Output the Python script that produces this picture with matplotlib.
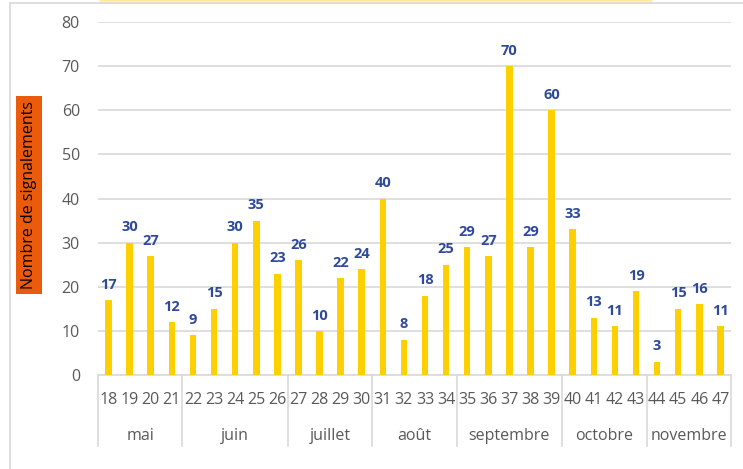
import numpy as np
import matplotlib.pyplot as plt
from matplotlib.patches import Rectangle
from matplotlib.lines import Line2D

plt.rcParams['font.family'] = ['Open Sans', 'DejaVu Sans']

# semaines et nombre de signalements
weeks = [18, 19, 20, 21, 22, 23, 24, 25, 26, 27, 28, 29, 30, 31, 32, 33, 34,
         35, 36, 37, 38, 39, 40, 41, 42, 43, 44, 45, 46, 47]
counts = [17, 30, 27, 12, 9, 15, 30, 35, 23, 26, 10, 22, 24, 40, 8, 18, 25,
          29, 27, 70, 29, 60, 33, 13, 11, 19, 3, 15, 16, 11]
months = ['mai', 'juin', 'juillet', 'août', 'septembre', 'octobre', 'novembre']
weeks_per_month = [4, 5, 4, 4, 5, 4, 4]

bar_color = '#FFD000'
label_color = '#2F4A9A'
grey_txt = '#595959'
grid_col = '#D9D9D9'

fig = plt.figure(figsize=(7.43, 4.69), dpi=100)
ax = fig.add_axes([0.1319, 0.2004, 0.8519, 0.7527])

x = np.arange(len(weeks))
bars = ax.bar(x, counts, width=0.31, color=bar_color, zorder=3)
for xi, v in zip(x, counts):
    ax.annotate(str(v), (xi, v), xytext=(0, 6), textcoords='offset points',
                ha='center', va='bottom', fontsize=10.5, fontweight='bold',
                color=label_color)

ax.set_xlim(-0.5, len(weeks) - 0.5)
ax.set_ylim(0, 80)
ax.set_yticks(range(0, 81, 10))
ax.grid(axis='y', color=grid_col, linewidth=1.2, zorder=0)
for s in ['top', 'right', 'left']:
    ax.spines[s].set_visible(False)
ax.spines['bottom'].set_color(grid_col)
ax.spines['bottom'].set_linewidth(1.2)
ax.tick_params(axis='y', length=0, pad=13, labelsize=11.5, labelcolor=grey_txt)
ax.set_xticks(x)
ax.set_xticklabels([str(w) for w in weeks])
ax.tick_params(axis='x', length=0, pad=12, labelsize=11.5, labelcolor=grey_txt)

# mois sous les semaines
trans = ax.get_xaxis_transform()
start = -0.5
bounds = [start]
for m, n in zip(months, weeks_per_month):
    end = start + n
    ax.text((start + end) / 2, -0.173, m, transform=trans, ha='center',
            va='center', fontsize=11.5, color=grey_txt)
    bounds.append(end)
    start = end
for b in bounds:
    ax.add_line(Line2D([b, b], [0, -0.201], transform=trans, color=grid_col,
                       linewidth=1.2, clip_on=False))

# étiquette de l'axe y dans une boîte orange
fig.text(0.0387, 0.584, 'Nombre de signalements', rotation=90, ha='center',
         va='center', fontsize=11.5, color='black',
         bbox=dict(boxstyle='square,pad=0.3', facecolor='#EA5B0C',
                   edgecolor='none'))

# cadre et bandeau de titre coupé
fig.add_artist(Line2D([10/743, 10/743], [0, 1 - 3/469], color=grid_col,
                      linewidth=1.2))
fig.add_artist(Line2D([10/743, 1], [1 - 3/469, 1 - 3/469], color=grid_col,
                      linewidth=1.2))
fig.add_artist(Rectangle((100/743, 1 - 3/469), 551/743, 3/469,
                         facecolor='#FFF2CC', edgecolor='#FFE699',
                         linewidth=0.8))

plt.savefig('out.png', dpi=100)
